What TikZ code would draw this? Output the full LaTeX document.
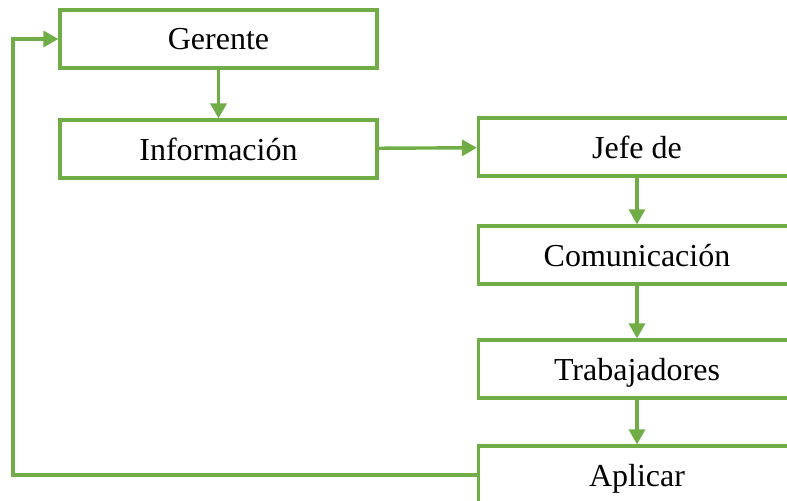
\documentclass[tikz,border=0pt]{standalone}
\usepackage{fontspec}
\setmainfont{Liberation Serif}
\usetikzlibrary{arrows.meta}
\definecolor{flowgreen}{HTML}{70AD47}

\begin{document}
\begin{tikzpicture}[x = 0.5pt, y = -0.5pt]
\tikzstyle{BoxStyle}=[
shape = rectangle,
draw = flowgreen,
line width = 1.6pt,
minimum width = 158.5pt,
minimum height = 29pt,
inner sep = 0pt,
text depth = 0pt,
font = \fontsize{16}{19}\selectfont]
\tikzstyle{post}=[
draw = flowgreen,
line width = 1.7pt,
-{Triangle[length = 7.5pt, width = 8pt]}]
\clip (0,0) rectangle (787,501);
\node[BoxStyle] (ger) at (218.5, 39) {Gerente};
\node[BoxStyle] (inf) at (218.5, 149) {Información};
\node[BoxStyle] (jef) at (637, 147) {Jefe de};
\node[BoxStyle] (com) at (637, 255) {Comunicación};
\node[BoxStyle] (tra) at (637, 369) {Trabajadores};
\node[BoxStyle] (apl) at (637, 475) {Aplicar};
\coordinate (back) at (13, 39);
\draw[post] (ger) -- (inf);
\draw[post] (inf) -- (jef);
\draw[post] (jef) -- (com);
\draw[post] (com) -- (tra);
\draw[post] (tra) -- (apl);
\draw[post] (apl.west) -| (back) -- (ger.west);
\end{tikzpicture}
\end{document}
